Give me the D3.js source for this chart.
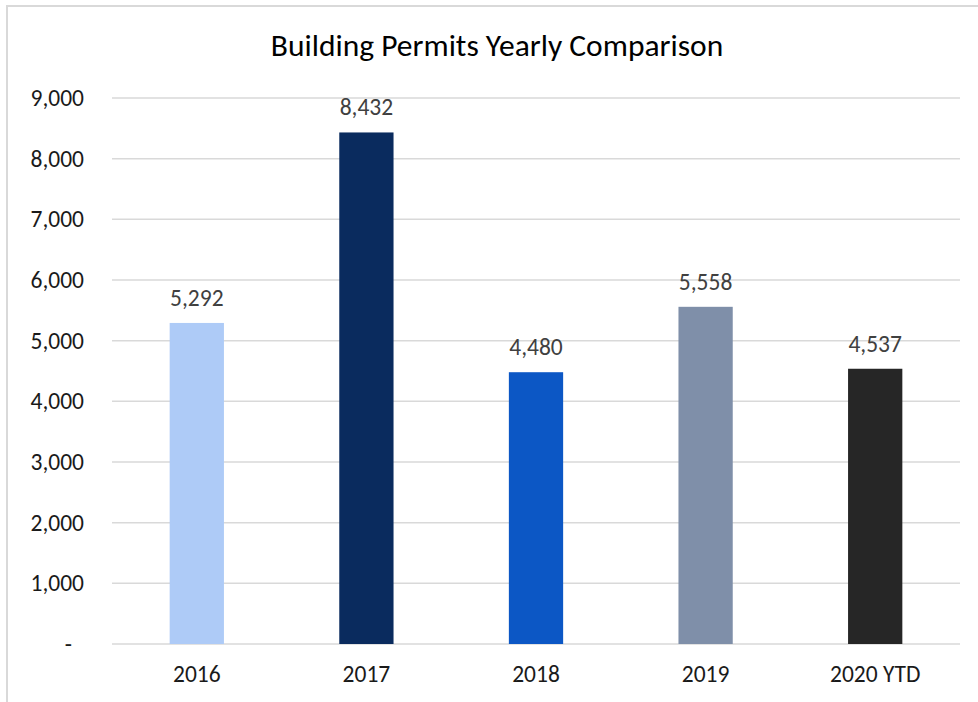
<!DOCTYPE html>
<html>
<head>
<meta charset="utf-8">
<script src="https://cdn.jsdelivr.net/npm/d3@7"></script>
<style>
  body { margin: 0; background: #fff; }
  svg { display: block; font-family: Carlito, Calibri, "Noto Sans", sans-serif; }
</style>
</head>
<body>
<svg id="chart" width="978" height="702"></svg>
<script>
// data
var years = ["2016", "2017", "2018", "2019", "2020 YTD"]
var permits = [5292, 8432, 4480, 5558, 4537]
var barColors = ["#aecbf7", "#0a2b5e", "#0c57c5", "#7f8fa9", "#262626"]
var yTicks = [0, 1000, 2000, 3000, 4000, 5000, 6000, 7000, 8000, 9000]

var svg = d3.select("#chart")

// chart frame (runs off the page on right and bottom)
svg.append("rect")
    .attr("x", 7).attr("y", 6)
    .attr("width", 1000).attr("height", 720)
    .attr("fill", "none")
    .attr("stroke", "#d9d9d9")
    .attr("stroke-width", 2)

var plotLeft = 112, plotRight = 960, plotTop = 98, plotBottom = 644

var x = d3.scaleBand()
    .domain(years)
    .range([plotLeft, plotRight])
    .padding(0)

var y = d3.scaleLinear()
    .domain([0, 9000])
    .range([plotBottom, plotTop])

var barW = x.bandwidth() * 0.32
var fmt = d3.format(",")

// gridlines
svg.append("g")
    .selectAll("line")
    .data(yTicks)
    .enter()
    .append("line")
    .attr("x1", plotLeft).attr("x2", plotRight)
    .attr("y1", function(d) { return y(d); })
    .attr("y2", function(d) { return y(d); })
    .attr("stroke", "#d9d9d9")
    .attr("stroke-width", 1.5)

// y axis labels
var yAxis = svg.append("g")
    .attr("transform", "translate(" + (plotLeft - 28) + ",0)")
    .call(d3.axisLeft(y).tickValues(yTicks).tickSize(0).tickPadding(0)
        .tickFormat(function(d) { return d === 0 ? "-" : fmt(d); }))
yAxis.select(".domain").remove()
yAxis.selectAll("text")
    .attr("font-size", "23.5px")
    .attr("fill", "#1a1a1a")
    .attr("font-family", "Carlito, Calibri, 'Noto Sans', sans-serif")
    .attr("dx", function(d) { return d === 0 ? -12 : 0; })

// x axis labels
var xAxis = svg.append("g")
    .attr("transform", "translate(0," + plotBottom + ")")
    .call(d3.axisBottom(x).tickSize(0).tickPadding(21))
xAxis.select(".domain").remove()
xAxis.selectAll("text")
    .attr("font-size", "23.5px")
    .attr("fill", "#1a1a1a")
    .attr("font-family", "Carlito, Calibri, 'Noto Sans', sans-serif")

// bars
svg.append("g")
    .selectAll("rect")
    .data(permits)
    .enter()
    .append("rect")
    .attr("x", function(d, i) { return x(years[i]) + x.bandwidth() / 2 - barW / 2; })
    .attr("y", function(d) { return y(d); })
    .attr("width", barW)
    .attr("height", function(d) { return y(0) - y(d); })
    .attr("fill", function(d, i) { return barColors[i]; })

// value labels
svg.append("g")
    .selectAll("text")
    .data(permits)
    .enter()
    .append("text")
    .attr("x", function(d, i) { return x(years[i]) + x.bandwidth() / 2; })
    .attr("y", function(d) { return y(d) - 17; })
    .attr("text-anchor", "middle")
    .attr("font-size", "23.5px")
    .attr("fill", "#404040")
    .text(function(d) { return fmt(d); })

// title
svg.append("text")
    .attr("x", 497)
    .attr("y", 56)
    .attr("text-anchor", "middle")
    .attr("font-size", "31.5px")
    .attr("fill", "#000")
    .text("Building Permits Yearly Comparison")
</script>
</body>
</html>
